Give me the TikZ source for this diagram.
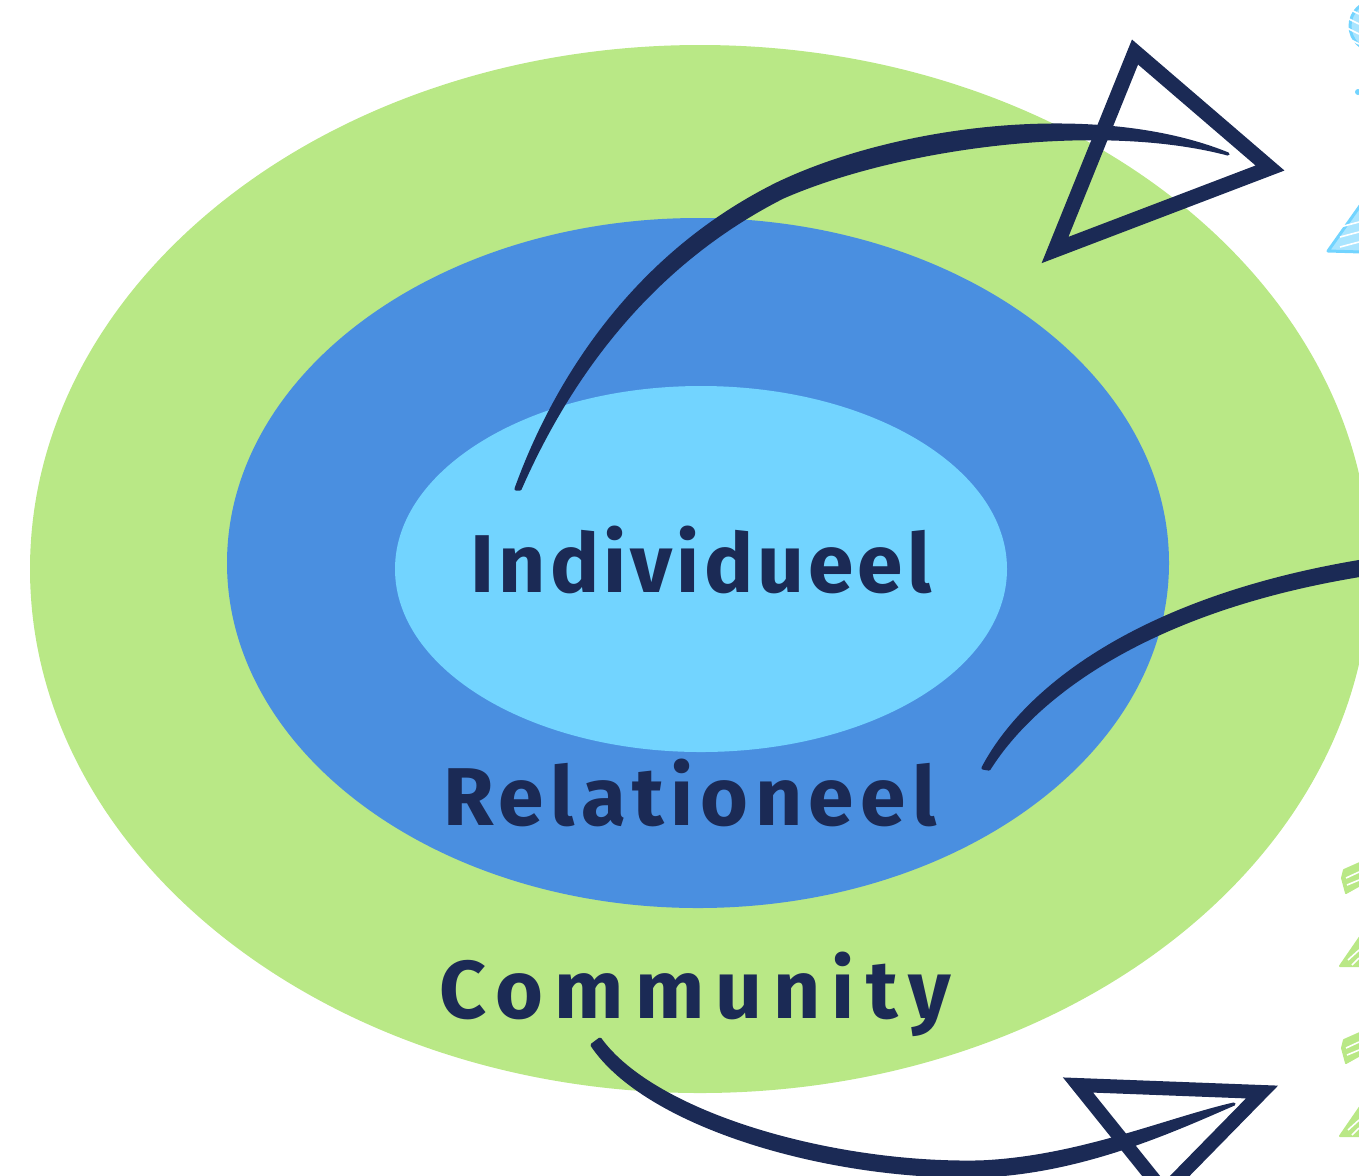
\documentclass[tikz,border=0pt]{standalone}
\usepackage{fontspec}
\setmainfont{Fira Sans}
\newfontfamily\lblfont{Fira Sans}
\definecolor{cgreen}{HTML}{B9E886}
\definecolor{cmid}{HTML}{4A8FE0}
\definecolor{clight}{HTML}{72D4FF}
\definecolor{navy}{HTML}{1B2A55}
\begin{document}
\begin{tikzpicture}[x=0.5pt,y=-0.5pt,
  lbl/.style={text=navy, inner sep=0pt, anchor=base},
  brushfill/.style={fill=navy, draw=navy, line width=1.6pt, line join=round},
  head/.style={draw=navy, line width=7.5pt, line join=miter},
  gicon/.style={fill=cgreen, draw=cgreen, line width=1pt, line join=round},
  bicon/.style={fill=clight!60, draw=clight, line width=1.5pt, line join=round},
  hatch/.style={draw=white, line width=0.8pt}]
\useasboundingbox (0,0) rectangle (1359,1175);
% rings
\fill[cgreen] (700,569) ellipse [x radius=670, y radius=524];
\fill[cmid] (698,563) ellipse [x radius=471, y radius=345];
\fill[clight] (701,569) ellipse [x radius=306, y radius=183];
% labels
\node[lbl, font={\lblfont\bfseries\addfontfeatures{LetterSpace=5}\fontsize{41}{41}\selectfont}] (ind) at (701,592) {Individueel};
\node[lbl, font={\lblfont\bfseries\addfontfeatures{LetterSpace=8}\fontsize{41}{41}\selectfont}] (rel) at (690,825) {Relationeel};
\node[lbl, font={\lblfont\bfseries\addfontfeatures{LetterSpace=13.5}\fontsize{41}{41}\selectfont}] (com) at (695,1018) {Community};
% arrow 1 (tapered brush stroke)
\coordinate (a1s) at (518,489);
\coordinate (a1e) at (1228,154);
\fill[brushfill] (516,489) .. controls (556,378) and (636,254) .. (777,184)
  .. controls (900,125) and (1100,102) .. (a1e)
  .. controls (1100,120) and (900,146) .. (783,197)
  .. controls (645,267) and (566,384) .. (520,489) -- cycle;
\coordinate (h1a) at (1135,52);
\coordinate (h1b) at (1270,168);
\coordinate (h1c) at (1055,250);
\draw[head] (h1a) -- (h1b) -- (h1c) -- cycle;
% arrow 2
\coordinate (a2s) at (986,769);
\coordinate (a2e) at (1375,566);
\fill[brushfill] (983,768) .. controls (1026,686) and (1146,594) .. (1375,559)
  -- (1375,573) .. controls (1154,606) and (1036,694) .. (989,769) -- cycle;
% arrow 3
\coordinate (a3s) at (596,1042);
\coordinate (a3e) at (1234,1104);
\fill[brushfill] (600,1039) .. controls (654,1114) and (832,1165) .. (980,1162)
  .. controls (1078,1158) and (1168,1119) .. (a3e)
  .. controls (1172,1131) and (1082,1172) .. (980,1176)
  .. controls (828,1179) and (646,1126) .. (592,1045) -- cycle;
\coordinate (h2a) at (1078,1085);
\coordinate (h2b) at (1262,1092);
\coordinate (h2c) at (1164,1192);
\draw[head, line width=7pt] (h2c) -- (h2a) -- (h2b) -- cycle;
% right-edge icons (cut off)
\draw[bicon] (1375,26) circle [radius=25];
\foreach \y in {8,18,28,38}{\draw[hatch] (1347,\y) -- (1359,\y+6);}
\fill[clight] (1358,92) circle [radius=3];
\draw[bicon] (1328,251) -- (1362,203) -- (1362,252) -- cycle;
\foreach \y in {222,232,242}{\draw[hatch] (1340,\y+5) -- (1359,\y);}
\foreach \dy in {0,170}{
  \begin{scope}[yshift=\dy*-0.5pt]
  \draw[gicon] (1362,862) -- (1344,870) -- (1342,878) -- (1346,893) -- (1362,884) -- cycle;
  \draw[hatch] (1346,878) -- (1359,872);
  \draw[hatch] (1347,885) -- (1359,880);
  \draw[gicon] (1340,966) -- (1362,934) -- (1362,966) -- cycle;
  \draw[hatch] (1348,960) -- (1359,950);
  \draw[hatch] (1352,965) -- (1359,958);
  \end{scope}}
\end{tikzpicture}
\end{document}
